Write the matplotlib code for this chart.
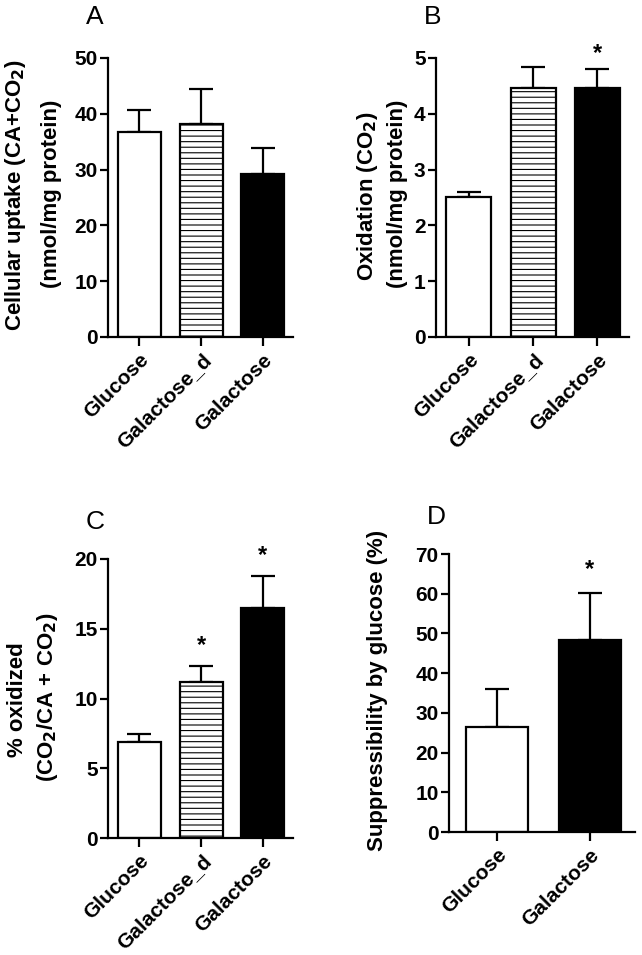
import matplotlib
matplotlib.use("Agg")
import matplotlib.pyplot as plt
import numpy as np

plt.rcParams['font.family'] = ['Liberation Sans', 'DejaVu Sans']
plt.rcParams['hatch.linewidth'] = 0.8
plt.rcParams['mathtext.default'] = 'bf'

# Data
groups3 = ["Glucose", "Galactose_d", "Galactose"]
groups2 = ["Glucose", "Galactose"]

uptake_mean = [36.7, 38.1, 29.3]
uptake_err = [4.0, 6.3, 4.5]

oxid_mean = [2.51, 4.47, 4.47]
oxid_err = [0.08, 0.37, 0.33]

pct_mean = [6.9, 11.2, 16.5]
pct_err = [0.56, 1.15, 2.3]

supp_mean = [26.5, 48.3]
supp_err = [9.6, 11.8]

stars_a = [False, False, False]
stars_b = [False, False, True]
stars_c = [False, True, True]
stars_d = [False, True]

fill3 = ["white", "white", "black"]
hatch3 = [None, "---", None]
fill2 = ["white", "black"]
hatch2 = [None, None]


def draw_panel(ax, labels, means, errs, ylim, yticks, stars, fills, hatches,
               width, xlim, star_off):
    x = np.arange(len(labels))
    ax.errorbar(x, means, yerr=[np.zeros(len(errs)), errs], fmt='none',
                ecolor='black', elinewidth=1.6, capsize=8.5, capthick=1.6, zorder=1)
    for xi, m, f, h in zip(x, means, fills, hatches):
        ax.bar(xi, m, width=width, color=f, edgecolor='black', linewidth=1.6,
               hatch=h, zorder=2)
    for xi, m, e, s in zip(x, means, errs, stars):
        if s:
            ax.annotate('*', (xi, m + e), xytext=(0, star_off), textcoords='offset points',
                        ha='center', va='bottom', fontsize=17, fontweight='bold',
                        annotation_clip=False)
    ax.set_xlim(*xlim)
    ax.set_ylim(*ylim)
    ax.set_yticks(yticks)
    ax.set_xticks(x)
    ax.set_xticklabels(labels, rotation=45, ha='right', va='top', rotation_mode='anchor')
    for sp in ['top', 'right']:
        ax.spines[sp].set_visible(False)
    for sp in ['left', 'bottom']:
        ax.spines[sp].set_linewidth(1.6)
    ax.tick_params(direction='out', length=6, width=1.6, labelsize=15, pad=1.5)
    ax.tick_params(axis='x', length=6.5, pad=3)
    for t in ax.get_xticklabels() + ax.get_yticklabels():
        t.set_fontweight('bold')


fig = plt.figure(figsize=(6.42, 9.55), dpi=100)
W, H = 642.0, 955.0


def axes_px(left, right, top, bottom):
    return fig.add_axes([left / W, 1 - bottom / H, (right - left) / W, (bottom - top) / H])


ax_a = axes_px(108, 293, 58, 337)
ax_b = axes_px(436, 629, 58, 337)
ax_c = axes_px(108, 293, 559, 838)
ax_d = axes_px(449, 635, 554, 832)

draw_panel(ax_a, groups3, uptake_mean, uptake_err, (0, 50), [0, 10, 20, 30, 40, 50],
           stars_a, fill3, hatch3, 0.7, (-0.51, 2.49), 4)
draw_panel(ax_b, groups3, oxid_mean, oxid_err, (0, 5), [0, 1, 2, 3, 4, 5],
           stars_b, fill3, hatch3, 0.7, (-0.51, 2.49), 3)
draw_panel(ax_c, groups3, pct_mean, pct_err, (0, 20), [0, 5, 10, 15, 20],
           stars_c, fill3, hatch3, 0.7, (-0.51, 2.49), 6)
draw_panel(ax_d, groups2, supp_mean, supp_err, (0, 70), [0, 10, 20, 30, 40, 50, 60, 70],
           stars_d, fill2, hatch2, 0.67, (-0.52, 1.49), 9)


def ftext(x, y, s, **kw):
    fig.text(x / W, 1 - y / H, s, **kw)


lab = dict(rotation=90, ha='center', va='center', fontsize=16, fontweight='bold')
ftext(16, 195, r"Cellular uptake (CA+CO$_2$)", **lab)
ftext(52, 194, "(nmol/mg protein)", **lab)
ftext(367, 196, r"Oxidation (CO$_2$)", **lab)
ftext(398, 194, "(nmol/mg protein)", **lab)
ftext(18, 700, "% oxidized", **lab)
ftext(48, 697, r"(CO$_2$/CA + CO$_2$)", **lab)
ftext(377, 690, "Suppressibility by glucose (%)", **lab)

pl = dict(ha='center', va='center', fontsize=19)
ftext(95, 17, "A", **pl)
ftext(433, 17, "B", **pl)
ftext(95, 522, "C", **pl)
ftext(436, 517, "D", **pl)

fig.savefig("out.png", dpi=100)
